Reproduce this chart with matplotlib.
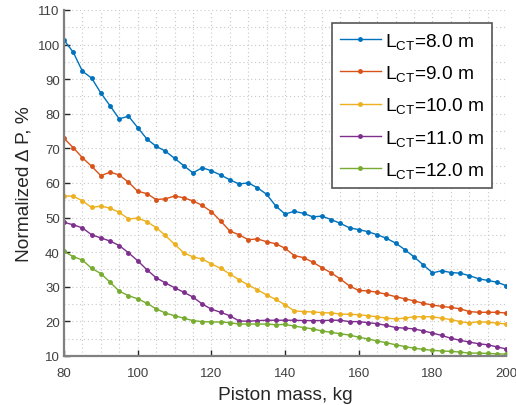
import numpy as np
import matplotlib
matplotlib.use('Agg')
import matplotlib.pyplot as plt
from matplotlib.ticker import MultipleLocator

# Piston mass, kg (step 2.5)
mass = np.arange(80, 200.1, 2.5)

# Normalized pressure drop, % for each column length
dp_8 = [101.3, 97.8, 92.3, 90.3, 86.0, 82.3, 78.5, 79.3, 76.0, 72.7,
        70.6, 69.2, 67.1, 65.0, 62.9, 64.4, 63.5, 62.3, 60.9, 59.7,
        60.0, 58.6, 56.7, 53.3, 51.0, 51.8, 51.2, 50.2, 50.4, 49.4,
        48.3, 47.0, 46.5, 45.9, 45.0, 44.0, 42.6, 40.7, 38.6, 36.3,
        34.0, 34.6, 34.1, 33.9, 33.2, 32.3, 31.8, 31.3, 30.3]
dp_9 = [72.9, 70.2, 67.3, 64.8, 62.1, 63.1, 62.3, 60.2, 57.6, 56.9,
        55.2, 55.4, 56.2, 55.7, 54.8, 53.5, 51.7, 49.0, 46.1, 45.0,
        43.6, 43.8, 43.0, 42.4, 41.1, 39.0, 38.4, 37.1, 35.5, 34.0,
        32.2, 30.2, 28.9, 28.8, 28.4, 27.8, 27.1, 26.5, 25.9, 25.2,
        24.7, 24.3, 24.0, 23.6, 22.8, 22.6, 22.6, 22.6, 22.4]
dp_10 = [56.2, 56.2, 54.8, 52.9, 53.3, 52.7, 51.5, 49.6, 49.8, 48.8,
         47.1, 44.8, 42.3, 39.8, 38.6, 38.0, 36.6, 35.3, 33.7, 32.0,
         30.5, 29.1, 27.6, 26.3, 24.8, 23.0, 22.8, 22.7, 22.5, 22.4,
         22.1, 22.0, 21.9, 21.6, 21.3, 20.9, 20.7, 20.9, 21.3, 21.3,
         21.3, 20.9, 20.5, 19.9, 19.5, 19.9, 19.7, 19.5, 19.2]
dp_11 = [48.6, 47.9, 47.0, 45.0, 44.1, 43.2, 41.9, 39.8, 37.5, 34.9,
         32.6, 31.1, 29.7, 28.4, 27.0, 25.0, 23.5, 22.6, 21.6, 20.1,
         20.0, 20.2, 20.3, 20.3, 20.3, 20.3, 20.2, 20.2, 20.2, 20.3,
         20.3, 19.9, 19.9, 19.6, 19.3, 18.8, 18.2, 18.0, 17.8, 17.2,
         16.6, 15.9, 15.1, 14.5, 14.0, 13.5, 13.2, 12.6, 12.0]
dp_12 = [40.2, 38.7, 37.7, 35.3, 33.8, 31.3, 28.7, 27.4, 26.5, 25.2,
         23.6, 22.4, 21.6, 20.9, 20.2, 19.9, 19.8, 19.8, 19.6, 19.2,
         19.2, 19.2, 19.2, 19.0, 19.1, 18.6, 18.2, 17.8, 17.2, 16.8,
         16.4, 16.0, 15.4, 14.9, 14.3, 13.8, 13.2, 12.7, 12.2, 11.9,
         11.6, 11.4, 11.3, 11.1, 10.8, 10.8, 10.7, 10.6, 10.5]

series = [dp_8, dp_9, dp_10, dp_11, dp_12]
labels = ['L$_{CT}$=8.0 m', 'L$_{CT}$=9.0 m', 'L$_{CT}$=10.0 m',
          'L$_{CT}$=11.0 m', 'L$_{CT}$=12.0 m']
colors = ['#0072BD', '#D95319', '#EDB120', '#7E2F8E', '#77AC30']

plt.rcParams['font.family'] = ['Liberation Sans', 'DejaVu Sans']
plt.rcParams['mathtext.default'] = 'regular'

fig = plt.figure(figsize=(5.16, 4.06), dpi=100)
ax = fig.add_axes([0.124, 0.121, 0.857, 0.852])

for values, label, color in zip(series, labels, colors):
    ax.plot(mass, values, color=color, marker='.', markersize=5,
            linewidth=1.0, label=label)

ax.set_xlim(80, 200)
ax.set_ylim(10, 110)
ax.xaxis.set_major_locator(MultipleLocator(20))
ax.xaxis.set_minor_locator(MultipleLocator(5))
ax.yaxis.set_major_locator(MultipleLocator(10))
ax.yaxis.set_minor_locator(MultipleLocator(5))

# dotted grid, major and minor
ax.grid(which='both', linestyle=(0, (1, 2.5)), color='#c8c8c8', linewidth=0.8)
ax.set_axisbelow(True)

for side in ['top', 'right']:
    ax.spines[side].set_visible(False)
for side in ['left', 'bottom']:
    ax.spines[side].set_color('#808080')
    ax.spines[side].set_linewidth(1.6)

ax.tick_params(which='major', direction='in', length=4, width=1,
               color='#262626', labelsize=9.5, labelcolor='#404040')
ax.tick_params(axis='x', pad=8)
ax.tick_params(axis='y', pad=3)
ax.tick_params(which='minor', length=0)

ax.set_xlabel('Piston mass, kg', fontsize=13.8, color='#262626', labelpad=5)
ax.set_ylabel('Normalized \u0394 P, %', fontsize=13.8, color='#262626', labelpad=4)

leg = ax.legend(loc='upper right', bbox_to_anchor=(0.968, 0.962),
                borderaxespad=0, fontsize=13.8, fancybox=False,
                handlelength=2.15, handletextpad=0.2, labelspacing=0.64,
                borderpad=0.4, framealpha=1)
leg.get_frame().set_edgecolor('#555555')
leg.get_frame().set_linewidth(1.2)

fig.savefig('out.png', dpi=100)
